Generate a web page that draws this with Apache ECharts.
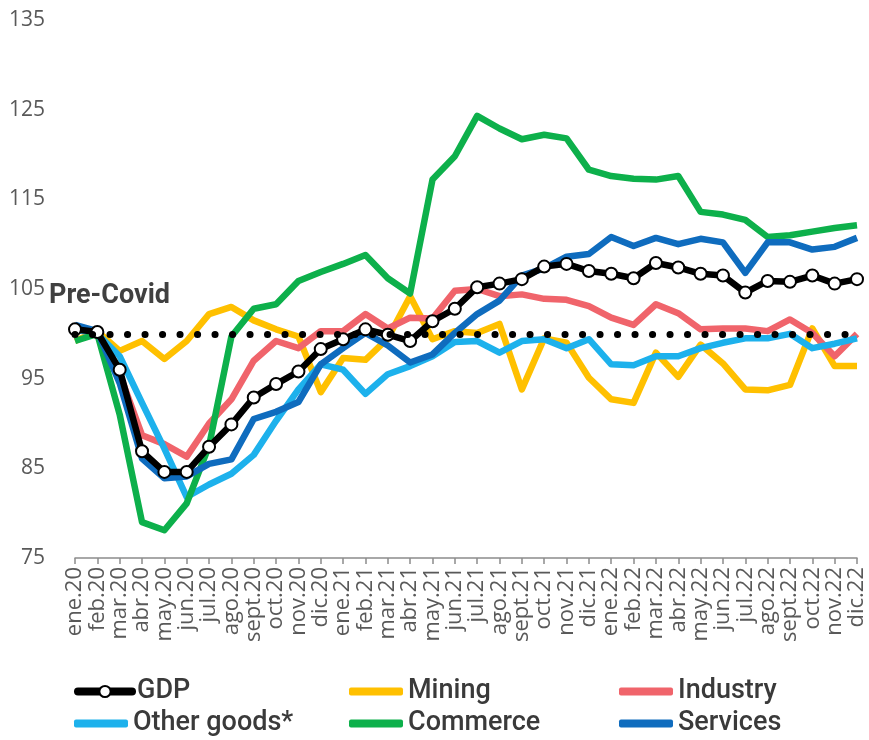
<!DOCTYPE html>
<html style="height: 100%">
<head>
  <meta charset="utf-8">
  <script src="https://cdn.jsdelivr.net/npm/echarts@6/dist/echarts.min.js"></script>
</head>
<body style="height: 100%; margin: 0; background: #fff">
  <div id="chart" style="width: 869px; height: 740px;"></div>
  <script type="text/javascript">
    // months ene.20 .. dic.22
    var months = ['ene.20','feb.20','mar.20','abr.20','may.20','jun.20','jul.20','ago.20','sept.20','oct.20','nov.20','dic.20',
                  'ene.21','feb.21','mar.21','abr.21','may.21','jun.21','jul.21','ago.21','sept.21','oct.21','nov.21','dic.21',
                  'ene.22','feb.22','mar.22','abr.22','may.22','jun.22','jul.22','ago.22','sept.22','oct.22','nov.22','dic.22'];
    var yTicks = [75, 85, 95, 105, 115, 125, 135];
    var preCovid = 100;

    var gdp = [100.5, 100.2, 96.0, 86.9, 84.6, 84.6, 87.4, 89.9, 92.9, 94.4, 95.8, 98.3,
               99.4, 100.5, 99.9, 99.2, 101.4, 102.8, 105.2, 105.6, 106.1, 107.5, 107.8, 107.0,
               106.7, 106.2, 107.9, 107.4, 106.7, 106.5, 104.6, 105.9, 105.8, 106.5, 105.6, 106.1];
    var mining = [99.2, 100.3, 98.1, 99.2, 97.2, 99.2, 102.2, 103.0, 101.5, 100.5, 99.7, 93.5,
                  97.3, 97.1, 99.5, 104.2, 99.4, 100.3, 100.1, 101.1, 93.8, 99.5, 99.0, 95.1,
                  92.7, 92.3, 97.9, 95.2, 98.8, 96.7, 93.8, 93.7, 94.3, 100.6, 96.4, 96.4];
    var industry = [100.5, 100.0, 95.5, 88.7, 87.7, 86.3, 90.0, 92.7, 97.0, 99.2, 98.4, 100.3,
                    100.3, 102.2, 100.6, 101.8, 101.7, 104.8, 105.0, 104.2, 104.4, 103.9, 103.8, 103.1,
                    101.8, 101.0, 103.3, 102.3, 100.5, 100.6, 100.6, 100.3, 101.6, 100.1, 97.5, 100.0];
    var otherGoods = [100.5, 100.0, 97.5, 92.3, 87.2, 81.8, 83.2, 84.4, 86.5, 90.3, 93.8, 96.6,
                      96.0, 93.3, 95.5, 96.4, 97.5, 99.1, 99.2, 97.9, 99.2, 99.4, 98.4, 99.4,
                      96.6, 96.5, 97.5, 97.5, 98.4, 99.0, 99.5, 99.5, 100.0, 98.4, 98.9, 99.5];
    var commerce = [99.2, 100.0, 91.0, 79.0, 78.1, 81.1, 87.5, 99.7, 102.8, 103.3, 105.9, 106.9,
                    107.8, 108.8, 106.2, 104.5, 117.2, 119.8, 124.3, 122.9, 121.7, 122.2, 121.8, 118.3,
                    117.6, 117.3, 117.2, 117.6, 113.6, 113.3, 112.7, 110.8, 111.0, 111.4, 111.8, 112.1];
    var services = [101.0, 100.3, 94.5, 86.1, 83.9, 84.1, 85.5, 86.0, 90.5, 91.3, 92.4, 96.6,
                    98.4, 100.1, 98.7, 96.8, 97.7, 100.1, 102.2, 103.7, 106.5, 107.3, 108.6, 108.9,
                    110.8, 109.8, 110.7, 110.0, 110.6, 110.2, 106.8, 110.2, 110.2, 109.4, 109.7, 110.7];

    var LINE_W = 6.5;
    var legendFont = {fontSize: 27, color: '#3a3a3a', fontWeight: 500, fontFamily: 'Roboto, sans-serif'};

    function lineSeries(name, data, color) {
      return {
        name: name,
        type: 'line',
        data: data,
        symbol: 'none',
        color: color,
        lineStyle: {width: LINE_W, color: color, join: 'round'},
        silent: true
      };
    }

    // one legend block per item, laid out as 3 columns x 2 rows
    function legendAt(name, left, top, isGdp) {
      return {
        data: [isGdp ? {name: name} : {name: name, icon: 'roundRect'}],
        left: left,
        top: top,
        itemWidth: 54,
        itemHeight: isGdp ? 14 : 8,
        itemGap: 0,
        textStyle: legendFont,
        lineStyle: {width: 8, cap: 'round'},
        selectedMode: false
      };
    }

    var dom = document.getElementById('chart');
    var myChart = echarts.init(dom);
    var option = {
      animation: false,
      backgroundColor: '#fff',
      grid: {left: 75, right: 12, top: 20, bottom: 182},
      legend: [
        legendAt('GDP', 69, 673, true),
        legendAt('Mining', 344, 673),
        legendAt('Industry', 614, 673),
        legendAt('Other goods*', 69, 705),
        legendAt('Commerce', 344, 705),
        legendAt('Services', 614, 705)
      ],
      xAxis: {
        type: 'category',
        data: months,
        boundaryGap: false,
        axisLine: {lineStyle: {color: '#8c8c8c', width: 1.5}},
        axisTick: {show: true, length: 6, lineStyle: {color: '#8c8c8c', width: 1.5}},
        axisLabel: {
          rotate: 90,
          interval: 0,
          fontSize: 22,
          color: '#595959',
          fontFamily: 'Open Sans, sans-serif',
          margin: 9
        },
        splitLine: {show: false}
      },
      yAxis: {
        type: 'value',
        min: yTicks[0],
        max: yTicks[yTicks.length - 1],
        interval: 10,
        axisLine: {show: false},
        axisTick: {show: false},
        splitLine: {show: false},
        axisLabel: {fontSize: 21, color: '#595959', fontFamily: 'Open Sans, sans-serif', margin: 30}
      },
      graphic: [{
        type: 'text',
        left: 49,
        top: 283,
        style: {text: 'Pre-Covid', fontSize: 27, fontWeight: 'bold', fill: '#404040',
                fontFamily: 'Roboto, sans-serif'}
      }],
      series: [
        lineSeries('Mining', mining, '#FFC000'),
        lineSeries('Industry', industry, '#F0646B'),
        lineSeries('Other goods*', otherGoods, '#1DB1EC'),
        lineSeries('Commerce', commerce, '#0DB04B'),
        lineSeries('Services', services, '#0F6CBE'),
        {
          name: 'GDP',
          type: 'line',
          data: gdp,
          symbol: 'emptyCircle',
          symbolSize: 12,
          color: '#000',
          itemStyle: {color: '#000', borderWidth: 3.5},
          lineStyle: {width: LINE_W, color: '#000'},
          silent: true,
          markLine: {
            silent: true,
            symbol: 'none',
            label: {show: false},
            lineStyle: {color: '#000', width: 7, type: [0.1, 17.4], cap: 'round'},
            data: [{yAxis: preCovid}]
          }
        }
      ]
    };
    myChart.setOption(option);
  </script>
</body>
</html>
